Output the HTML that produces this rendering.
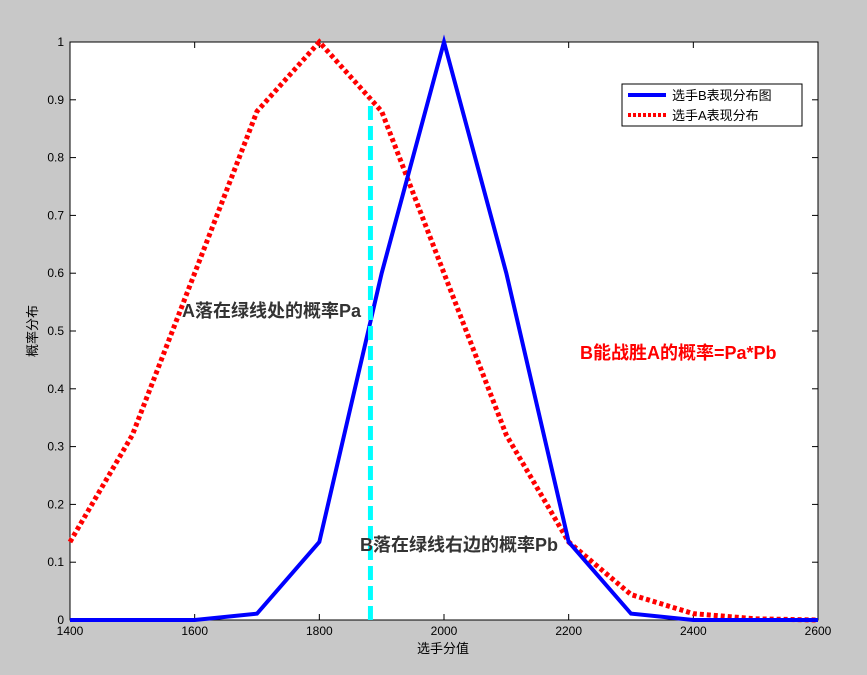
<!DOCTYPE html>
<html><head><meta charset="utf-8"><style>
html,body{margin:0;padding:0;background:#c8c8c8;}
svg{display:block;font-family:"Liberation Sans","Noto Sans CJK SC",sans-serif;}
</style></head><body>
<svg id="chart" width="867" height="675">
<rect width="867" height="675" fill="#c8c8c8"/>
<rect x="70" y="42" width="748" height="578" fill="#fff" stroke="#000" stroke-width="1"/>
<g id="ticks"></g>
<g id="series"></g>
<text x="443" y="653" font-size="13" text-anchor="middle">选手分值</text>
<text transform="translate(37,331) rotate(-90)" font-size="13" text-anchor="middle">概率分布</text>
<text x="182" y="317" font-size="18" font-weight="bold" fill="#333">A落在绿线处的概率Pa</text>
<text x="360" y="551" font-size="18" font-weight="bold" fill="#333">B落在绿线右边的概率Pb</text>
<text x="580" y="359" font-size="18" font-weight="bold" fill="#ff0000">B能战胜A的概率=Pa*Pb</text>
<g>
<rect x="622" y="84" width="180" height="42" fill="#fff" stroke="#000"/>
<line x1="628" y1="95" x2="666" y2="95" stroke="#0000ff" stroke-width="4"/>
<text x="672" y="100" font-size="13">选手B表现分布图</text>
<line x1="628" y1="115" x2="666" y2="115" stroke="#ff0000" stroke-width="4" stroke-dasharray="3,2"/>
<text x="672" y="120" font-size="13">选手A表现分布</text>
</g>
</svg>
<script>
const xValues=[1400,1500,1600,1700,1800,1900,2000,2100,2200,2300,2400,2500,2600];
const seriesB=[0,0,0,0.011,0.135,0.6,1,0.6,0.135,0.011,0,0,0];
const seriesA=[0.135,0.32,0.6,0.88,1,0.88,0.6,0.32,0.135,0.044,0.011,0.002,0];
const xTicks=[1400,1600,1800,2000,2200,2400,2600];
const yTicks=[0,0.1,0.2,0.3,0.4,0.5,0.6,0.7,0.8,0.9,1];
const cutX=1882, cutTop=0.9;
const X0=70,X1=818,Y0=620,Y1=42;
const sx=v=>X0+(v-1400)/(2600-1400)*(X1-X0);
const sy=v=>Y0-v*(Y0-Y1);
const NS="http://www.w3.org/2000/svg";
const tg=document.getElementById('ticks'), sg=document.getElementById('series');
function mk(tag,attrs,parent){const e=document.createElementNS(NS,tag);for(const k in attrs)e.setAttribute(k,attrs[k]);parent.appendChild(e);return e;}
xTicks.forEach(t=>{const x=sx(t);
 mk('line',{x1:x,y1:Y0,x2:x,y2:Y0-6,stroke:'#000'},tg);
 mk('line',{x1:x,y1:Y1,x2:x,y2:Y1+6,stroke:'#000'},tg);
 const tx=mk('text',{x:x,y:Y0+15,'font-size':12,'text-anchor':'middle'},tg);tx.textContent=t;
 
 });
yTicks.forEach(t=>{const y=sy(t);
 mk('line',{x1:X0,y1:y,x2:X0+6,y2:y,stroke:'#000'},tg);
 mk('line',{x1:X1,y1:y,x2:X1-6,y2:y,stroke:'#000'},tg);
 const tx=mk('text',{x:X0-6,y:y+4,'font-size':12,'text-anchor':'end'},tg);tx.textContent=t;
 
 });
const pA=mk('polyline',{points:xValues.map((v,i)=>sx(v)+','+sy(seriesA[i])).join(' '),fill:'none',stroke:'#ff0000','stroke-width':5,'stroke-dasharray':'4,3'},sg);


const pB=mk('polyline',{points:xValues.map((v,i)=>sx(v)+','+sy(seriesB[i])).join(' '),fill:'none',stroke:'#0000ff','stroke-width':4},sg);


const cl=mk('line',{x1:sx(cutX),y1:sy(0),x2:sx(cutX),y2:sy(cutTop),stroke:'#00ffff','stroke-width':5,'stroke-dasharray':'14,6'},sg);


</script>
</body></html>
